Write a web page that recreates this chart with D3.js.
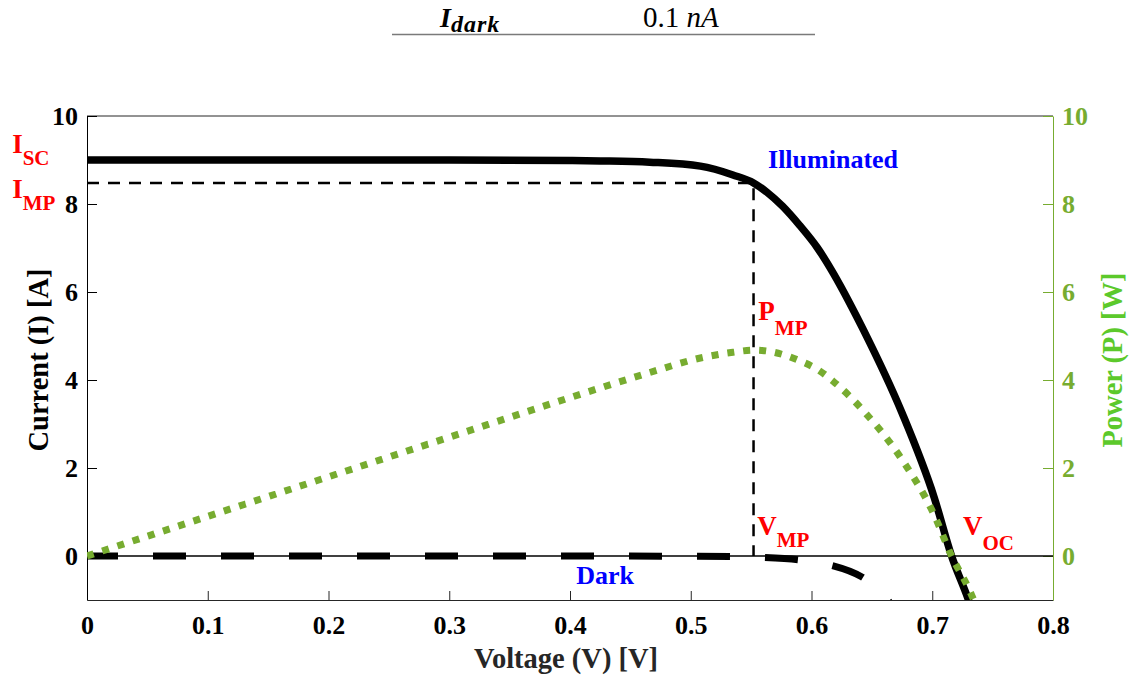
<!DOCTYPE html>
<html>
<head>
<meta charset="utf-8">
<script src="https://cdn.jsdelivr.net/npm/d3@7"></script>
<style>
body { margin: 0; background: #fff; }
svg text { font-family: "Liberation Serif", Tinos, "DejaVu Serif", serif !important; }
</style>
</head>
<body>
<svg id="canvas"></svg>
<script>
let width = 1130, height = 678

// illuminated I-V curve
const voltage = [0, 0.1, 0.2, 0.3, 0.4, 0.425, 0.466, 0.508, 0.535, 0.552, 0.563, 0.576, 0.59, 0.605, 0.618, 0.632, 0.643, 0.675, 0.7015, 0.716, 0.73, 0.74]
const currentLight = [9.0, 9.0, 9.0, 9.0, 8.99, 8.98, 8.95, 8.86, 8.66, 8.48, 8.27, 7.95, 7.52, 7.0, 6.43, 5.73, 5.14, 3.25, 1.34, 0.0, -1.0, -1.85]
const powerLight = [0, 0.9, 1.8, 2.7, 3.6, 3.82, 4.17, 4.5, 4.63, 4.68, 4.66, 4.58, 4.44, 4.24, 3.97, 3.62, 3.3, 2.19, 0.94, 0, -0.73, -1.37]

// dark curve
const voltageDark = [0, 0.1, 0.2, 0.3, 0.4, 0.5, 0.54, 0.56, 0.59, 0.615, 0.642, 0.654, 0.663, 0.675]
const currentDark = [0, 0, 0, 0, 0, -0.005, -0.018, -0.034, -0.09, -0.2, -0.48, -0.72, -1.0, -1.4]

// maximum power point
const mpp = {v: 0.552, i: 8.48, p: 4.68}

const xTicks = [0, 0.1, 0.2, 0.3, 0.4, 0.5, 0.6, 0.7, 0.8]
const xTickLabels = ["0", "0.1", "0.2", "0.3", "0.4", "0.5", "0.6", "0.7", "0.8"]
const yTicks = [0, 2, 4, 6, 8, 10]

const margin = {left: 87, right: 77, top: 116, bottom: 78}
const green = "#77ac30"
const serif = "'Liberation Serif', Tinos, 'DejaVu Serif', serif"

let svg = d3.select('#canvas').attr("width", width).attr("height", height)
  .style("font-family", serif)

let x = d3.scaleLinear().domain([0, 0.8]).range([margin.left, width - margin.right])
let y = d3.scaleLinear().domain([-1, 10]).range([height - margin.bottom, margin.top])
let yR = d3.scaleLinear().domain([-1, 10]).range([height - margin.bottom, margin.top])

// top table fragment
let tbl = svg.append("g")
tbl.append("line").attr("x1", 392).attr("x2", 815).attr("y1", 34.5).attr("y2", 34.5)
  .attr("stroke", "#7a7a7a").attr("stroke-width", 1.5)
let t1 = tbl.append("text").attr("x", 440).attr("y", 27).attr("font-size", 28)
  .attr("font-style", "italic").attr("font-weight", "bold")
t1.append("tspan").text("I")
t1.append("tspan").attr("dy", 5).attr("font-size", 24).attr("letter-spacing", 1).text("dark")
let t2 = tbl.append("text").attr("x", 643).attr("y", 27).attr("font-size", 29)
t2.append("tspan").text("0.1 ")
t2.append("tspan").attr("font-style", "italic").text("nA")

svg.append("clipPath").attr("id", "plot").append("rect")
  .attr("x", x(0)).attr("y", y(10)).attr("width", x(0.8) - x(0)).attr("height", y(-1) - y(10))

// box top
svg.append("line").attr("x1", x(0)).attr("x2", x(0.8)).attr("y1", y(10)).attr("y2", y(10))
  .attr("stroke", "#262626").attr("stroke-width", 1)

// axes
let xAxis = svg.append("g").attr("transform", `translate(0,${y(-1)})`)
  .call(d3.axisBottom(x).tickValues(xTicks).tickFormat((d, i) => xTickLabels[i]).tickSize(-9).tickSizeOuter(0).tickPadding(16))
let yAxis = svg.append("g").attr("transform", `translate(${x(0)},0)`)
  .call(d3.axisLeft(y).tickValues(yTicks).tickSize(-10).tickSizeOuter(0).tickPadding(9))
let yAxisR = svg.append("g").attr("transform", `translate(${x(0.8)},0)`)
  .call(d3.axisRight(yR).tickValues(yTicks).tickSize(-10).tickSizeOuter(0).tickPadding(9))

svg.selectAll("g").attr("font-family", null)
xAxis.select(".domain").attr("stroke", "#262626")
xAxis.selectAll(".tick line").attr("stroke", "#262626")
yAxis.select(".domain").attr("stroke", "#000")
yAxisR.select(".domain").attr("stroke", green)
yAxisR.selectAll(".tick line").attr("stroke", green)
svg.selectAll(".tick text").style("font-family", serif)
  .attr("font-size", 26).attr("font-weight", "bold").attr("fill", "#000")
yAxisR.selectAll(".tick text").attr("fill", green)

// zero line
svg.append("line").attr("x1", x(0)).attr("x2", x(0.8)).attr("y1", y(0)).attr("y2", y(0))
  .attr("stroke", "#000").attr("stroke-width", 1.3)

let plot = svg.append("g").attr("clip-path", "url(#plot)")

// maximum power guides
plot.append("path")
  .attr("d", `M${x(0)},${y(mpp.i)}H${x(mpp.v)}V${y(0)}`)
  .attr("fill", "none").attr("stroke", "#000").attr("stroke-width", 2.5)
  .attr("stroke-dasharray", "12,9")

let lineI = d3.line().x((d, i) => x(voltage[i])).y(d => y(d)).curve(d3.curveMonotoneX)
let lineP = d3.line().x((d, i) => x(voltage[i])).y(d => yR(d)).curve(d3.curveMonotoneX)
let lineD = d3.line().x((d, i) => x(voltageDark[i])).y(d => y(d)).curve(d3.curveMonotoneX)

plot.append("path").attr("d", lineD(currentDark))
  .attr("fill", "none").attr("stroke", "#000").attr("stroke-width", 7)
  .attr("stroke-dasharray", "33,35").attr("stroke-dashoffset", 2)

plot.append("path").attr("d", lineI(currentLight))
  .attr("fill", "none").attr("stroke", "#000").attr("stroke-width", 7.5)

plot.append("path").attr("d", lineP(powerLight))
  .attr("fill", "none").attr("stroke", green).attr("stroke-width", 7)
  .attr("stroke-dasharray", "7,9")

// axis titles
svg.append("text").attr("x", (x(0) + x(0.8)) / 2 - 4).attr("y", 668)
  .attr("text-anchor", "middle").attr("font-size", 28.5).attr("font-weight", "bold")
  .attr("fill", "#262626").text("Voltage (V) [V]")
svg.append("text").attr("transform", `translate(48,${(y(10) + y(-1)) / 2 + 2}) rotate(-90)`)
  .attr("text-anchor", "middle").attr("font-size", 28.5).attr("font-weight", "bold")
  .attr("fill", "#000").text("Current (I) [A]")
svg.append("text").attr("transform", `translate(1122,${(y(10) + y(-1)) / 2 + 2}) rotate(-90)`)
  .attr("text-anchor", "middle").attr("font-size", 28.5).attr("font-weight", "bold")
  .attr("fill", "#5cc92b").text("Power (P) [W]")

// curve names
svg.append("text").attr("x", x(0.564)).attr("y", y(8.82)).attr("font-size", 26)
  .attr("font-weight", "bold").attr("fill", "#0000ff").text("Illuminated")
svg.append("text").attr("x", x(0.429)).attr("y", y(-0.64)).attr("text-anchor", "middle")
  .attr("font-size", 26).attr("font-weight", "bold").attr("fill", "#0000ff").text("Dark")

// red point labels
const notes = [
  {main: "I", sub: "SC", v: -0.062, val: 9.16, dy: 12},
  {main: "I", sub: "MP", v: -0.062, val: 8.14, dy: 12},
  {main: "P", sub: "MP", v: 0.556, val: 5.36, dy: 15},
  {main: "V", sub: "MP", v: 0.555, val: 0.48, dy: 12},
  {main: "V", sub: "OC", v: 0.7255, val: 0.48, dy: 15}
]
notes.forEach(n => {
  let t = svg.append("text").attr("x", x(n.v)).attr("y", y(n.val))
    .attr("font-weight", "bold").attr("fill", "#ff0000")
  t.append("tspan").attr("font-size", 27).text(n.main)
  t.append("tspan").attr("dy", n.dy).attr("font-size", 21).text(n.sub)
})
</script>
</body>
</html>
